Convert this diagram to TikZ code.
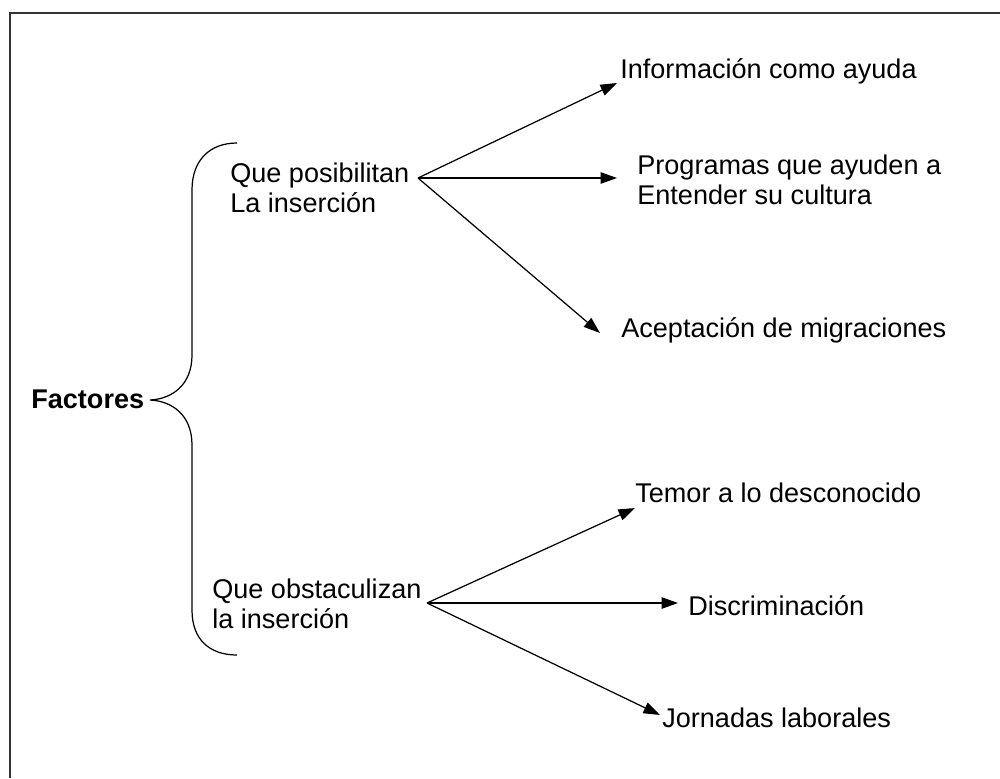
\documentclass[tikz,border=0pt]{standalone}
\usepackage{fontspec}
\setmainfont{Liberation Sans}
\usepackage{tikz}
\usetikzlibrary{arrows.meta, calc, positioning}

\begin{document}
\begin{tikzpicture}[x=0.02cm, y=-0.02cm,
                    texto/.style={anchor=base west, inner sep=0pt, font=\fontsize{15.4}{17.4}\selectfont},
                    bloque/.style={anchor=west, inner sep=0pt, align=left, font=\fontsize{15.4}{17.4}\selectfont},
                    flecha/.style={-{Triangle[length=0.33cm, width=0.23cm]}, line width=0.7pt},
                    linea/.style={line width=0.7pt}]
                            \useasboundingbox (0, 0) rectangle (1000, 778);
                            \draw[line width=1pt, black!80]
                            (10, 778) -- (10, 13) -- (1000, 13);

                            \node[texto, font=\fontsize{15.4}{17.4}\selectfont\bfseries] (factores) at (31, 408) {Factores};
                            \node[bloque] (posibilitan) at (230, 188) {Que posibilitan\\La inserción};
                            \node[bloque] (obstaculizan) at (212, 604) {Que obstaculizan\\la inserción};

                            \node[texto] (informacion) at (620, 78) {Información como ayuda};
                            \node[bloque] (programas) at (637, 180) {Programas que ayuden a\\Entender su cultura};
                            \node[texto] (aceptacion) at (621, 337) {Aceptación de migraciones};
                            \node[texto] (temor) at (635, 502) {Temor a lo desconocido};
                            \node[texto] (discriminacion) at (688, 615) {Discriminación};
                            \node[texto] (jornadas) at (662, 727) {Jornadas laborales};

                            \coordinate (llave) at (150, 400);
                            \coordinate (posv) at (418, 178);
                            \coordinate (obsv) at (427, 603);
                            \coordinate (informacionp) at (617, 83);
                            \coordinate (programasp) at (617, 178);
                            \coordinate (aceptacionp) at (600, 333);
                            \coordinate (temorp) at (635, 508);
                            \coordinate (discriminacionp) at (678, 603);
                            \coordinate (jornadasp) at (660, 715);

                            \draw[linea]
                            (237, 143) .. controls (210, 143) and (192, 160) .. (192, 190) -- (192, 355)
                            .. controls (192, 385) and (172, 399) .. (llave)
                            .. controls (172, 401) and (192, 415) .. (192, 445) -- (192, 610)
                            .. controls (192, 640) and (210, 655) .. (237, 655);

                            \draw[flecha] (posv) -- (informacionp);
                            \draw[flecha] (posv) -- (programasp);
                            \draw[flecha] (posv) -- (aceptacionp);
                            \draw[flecha] (obsv) -- (temorp);
                            \draw[flecha] (obsv) -- (discriminacionp);
                            \draw[flecha] (obsv) -- (jornadasp);
                        \end{tikzpicture}
\end{document}
